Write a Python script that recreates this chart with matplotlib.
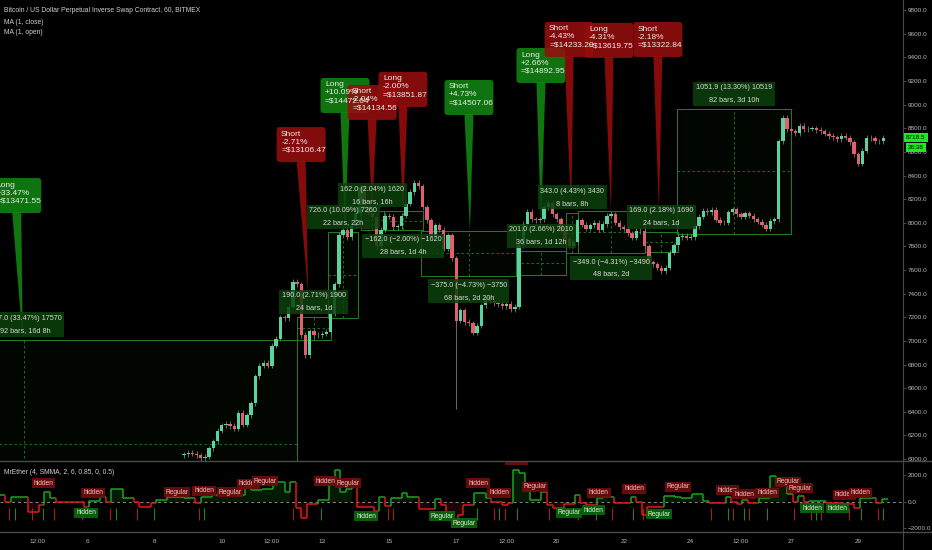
import matplotlib
matplotlib.use('Agg')
import matplotlib.pyplot as plt
import numpy as np
from matplotlib.patches import Rectangle, Polygon, FancyBboxPatch
from matplotlib.collections import LineCollection
from matplotlib.lines import Line2D
from matplotlib.transforms import IdentityTransform

plt.rcParams['font.family'] = ['Liberation Sans', 'DejaVu Sans']

# ---------------- data (days of May 2019) ----------------
bar_start = 8.875          # first 3h candle
bar_step = 0.125
first_open = 6030
closes = [6040, 6050, 6045, 6030, 6005, 6020, 6090, 6150, 6240, 6285,
          6300, 6280, 6255, 6390, 6290, 6370, 6470, 6700, 6790, 6815,
          6790, 6960, 7020, 7200, 7190, 7290, 7500, 7480, 7050, 6880,
          7080, 7050, 7050, 7060, 7075, 7230, 7480, 7900, 7940, 7880,
          7975, 8080, 8300, 8130, 8085, 8050, 7800, 7940, 8060, 8050,
          7960, 7970, 8060, 8160, 8260, 8340, 8310, 8130, 8020, 7890,
          7980, 7940, 7780, 7895, 7700, 7170, 7260, 7160, 7150, 7070,
          7130, 7300, 7370, 7340, 7320, 7310, 7295, 7315, 7270, 7290,
          7810, 7990, 8095, 8030, 8020, 8030, 8130, 8170, 8070, 8030,
          7930, 7860, 7805, 7840, 8020, 7985, 7950, 7980, 8000, 7940,
          7990, 8060, 8070, 8000, 7960, 7950, 7910, 7875, 7930, 7930,
          7800, 7665, 7650, 7620, 7590, 7620, 7745, 7810, 7880, 7890,
          7875, 7880, 7970, 8050, 8100, 8090, 8110, 8025, 8000, 8000,
          8090, 8115, 8070, 8050, 8080, 8060, 8030, 8010, 7985, 7950,
          8015, 8030, 8690, 8890, 8790, 8775, 8760, 8820, 8790, 8795,
          8800, 8785, 8775, 8755, 8735, 8725, 8710, 8735, 8720, 8680,
          8580, 8500, 8610, 8720, 8715, 8690, 8690, 8718.5]
spike_day = [17.0]
spike_low = [6420]
last_price = 8718.5
countdown = '26:38'

tick_days = [4.5, 6, 8, 10, 11.5, 13, 15, 17, 18.5, 20, 22, 24, 25.5, 27, 29]
tick_text = ['12:00', '6', '8', '10', '12:00', '13', '15', '17', '12:00',
             '20', '22', '24', '12:00', '27', '29']
price_ticks = list(range(6000, 9801, 200))

# measure (date & price range) boxes
m_start = [-4.083, 12.25, 13.167, 14.167, 14.833, 15.958, 18.792, 20.292, 20.625, 22.625, 23.583]
m_end = [12.25, 13.25, 14.083, 14.833, 16.0, 18.792, 20.292, 20.625, 22.625, 23.625, 27.0]
m_from = [5250, 7011, 7195, 7941, 8100, 7928, 7556, 7743, 8097, 7752, 7909]
m_to = [7007, 7201, 7921, 8103, 7938, 7553, 7757, 8086, 7748, 7921, 8961]
m = '\u2212'
m_line1 = ['1757.0 (33.47%) 17570', '190.0 (2.71%) 1900', '726.0 (10.09%) 7260',
           '162.0 (2.04%) 1620', m + '162.0 (' + m + '2.00%) ' + m + '1620',
           m + '375.0 (' + m + '4.73%) ' + m + '3750', '201.0 (2.66%) 2010',
           '343.0 (4.43%) 3430', m + '349.0 (' + m + '4.31%) ' + m + '3490',
           '169.0 (2.18%) 1690', '1051.9 (13.30%) 10519']
m_line2 = ['392 bars, 16d 8h', '24 bars, 1d', '22 bars, 22h', '16 bars, 16h',
           '28 bars, 1d 4h', '68 bars, 2d 20h', '36 bars, 1d 12h', '8 bars, 8h',
           '48 bars, 2d', '24 bars, 1d', '82 bars, 3d 10h']

# trade balloons
b_text = ['Long\n+33.47%\n=$13471.55', 'Short\n-2.71%\n=$13106.47',
          'Long\n+10.09%\n=$14472.64', 'Short\n-2.04%\n=$14134.56',
          'Long\n-2.00%\n=$13851.87', 'Short\n+4.73%\n=$14507.06',
          'Long\n+2.66%\n=$14892.95', 'Short\n-4.43%\n=$14233.20',
          'Long\n-4.31%\n=$13619.75', 'Short\n-2.18%\n=$13322.84']
b_win = [True, False, True, False, False, True, True, False, False, False]
b_day = [4.06, 12.58, 13.68, 14.49, 15.41, 17.41, 19.53, 20.43, 21.62, 23.05]
b_price = [7007, 7405, 7922, 8100, 8092, 7922, 7981, 8083, 8092, 8108]

# MrEther indicator, 4h steps
ind_start = 3.375
ind_step = 1 / 6
ind_vals = [500, 0, 330, 330, 330, -750, -750, -250, 700, 250,
            -50, -50, -50, -50, -50, -380, 75, 75, 380, 0,
            960, 960, 250, 250, 0, -380, -380, -75, 125, 125,
            350, 350, 350, 250, 250, -125, 380, 380, 500, 800,
            800, 800, 500, 500, 1130, 880, 880, 930, 930, 1510,
            1510, 750, 1460, -500, -1260, -200, -200, 125, 125, 1760,
            2400, 750, 960, 1640, -380, -380, -380, -700, 330, -300,
            300, 300, 680, 380, 380, -550, -550, -550, 175, -250,
            -1000, -1890, -1000, -250, -250, 630, 630, 250, 0, 0,
            -250, -125, 2400, 2140, 880, 125, 125, 750, -250, -450,
            -450, -200, -200, 500, -125, -250, -250, 250, 350, 350,
            -75, -75, -75, 380, 0, -1000, -380, -380, -380, 450,
            450, 380, 250, 250, 550, 550, 50, -125, -125, -125,
            380, 0, -200, 125, -125, -125, 250, 250, 1960, 1260,
            1260, 550, 0, 450, 0, 50, 50, 50, -125, -125,
            -125, -200, -200, -450, 250, 250, 250, -125, 200]
div_day = [3.66, 3.83, 4.35, 4.67, 4.99, 5.82, 6.67, 6.85, 7.46, 7.99, 9.32, 9.47,
           12.14, 12.96, 14.95, 15.10, 17.62, 18.14, 18.29, 18.47, 18.81, 19.78,
           20.63, 21.17, 21.64, 22.29, 22.57, 24.61, 25.10, 25.25, 25.60, 25.75,
           26.27, 27.09, 27.59, 27.74, 27.89, 28.73, 29.08, 29.58, 29.73]
div_bull = [0, 1, 0, 1, 0, 0, 0, 1, 0, 1, 0, 1,
            0, 1, 0, 0, 1, 0, 1, 0, 1, 0,
            0, 1, 0, 1, 0, 0, 1, 0, 1, 0,
            1, 0, 0, 1, 0, 0, 1, 0, 1]
lab_text = ['hidden', 'hidden', 'Regular', 'hidden', 'Regular', 'hidden', 'Regular',
            'hidden', 'Regular', 'hidden', 'hidden', 'hidden', 'Regular', 'hidden',
            'hidden', 'Regular', 'hidden', 'hidden', 'hidden', 'Regular', 'Regular',
            'hidden', 'hidden',
            'hidden', 'hidden', 'Regular', 'Regular', 'Regular', 'hidden', 'Regular',
            'hidden', 'hidden']
lab_day = [4.67, 6.16, 8.67, 9.47, 10.25, 10.79, 11.29, 13.11, 13.77, 17.65, 18.28,
           18.79, 19.35, 21.26, 22.31, 23.62, 25.11, 25.59, 26.28, 26.90, 27.26,
           28.58, 29.08,
           5.95, 14.31, 16.58, 17.23, 20.37, 21.11, 23.05, 27.62, 28.37]
lab_val = [1410, 660, 730, 810, 730, 1340, 1560, 1560, 1410, 1410, 660,
           3150, 1110, 660, 960, 1110, 880, 580, 660, 1490, 1030,
           510, 660,
           -850, -1080, -1080, -1610, -850, -630, -930, -480, -480]
lab_bull = [False] * 23 + [True] * 9

# ---------------- figure ----------------
W, H = 932, 550
BG = '#000000'
TXT = '#b8b8b8'
GRN, RED = '#5ad39e', '#e3606a'
BOX = '#237f23'

fig = plt.figure(figsize=(W / 100, H / 100), dpi=100, facecolor=BG)

def px_rect(x0, y0, x1, y1):
    return [x0 / W, 1 - y1 / H, (x1 - x0) / W, (y1 - y0) / H]

ax = fig.add_axes(px_rect(0, 0, 903, 461), facecolor=BG)
ax2 = fig.add_axes(px_rect(0, 461, 903, 532), facecolor=BG, sharex=ax)
ax.set_xlim(3.382, 30.337)
ax.set_ylim(5983, 9886)
ax2.set_ylim(-2288, 3073)

for a in (ax, ax2):
    for s in a.spines.values():
        s.set_visible(False)
    a.yaxis.tick_right()
    a.tick_params(axis='y', colors='#555555', labelcolor=TXT, labelsize=4.6,
                  length=2.2, width=0.6, pad=1)

ax.set_yticks(price_ticks)
ax.set_yticklabels([f'{v:.1f}' for v in price_ticks])
ax.tick_params(axis='x', bottom=False, labelbottom=False)
ax2.set_yticks([2000, 0, -2000])
ax2.set_yticklabels(['2000.0', '0.0', '\u22122000.0'])
ax2.set_xticks(tick_days)
ax2.set_xticklabels(tick_text)
ax2.tick_params(axis='x', length=0, pad=5, labelsize=4.6, labelcolor=TXT)

# measure boxes (behind candles)
for t0, t1, p0, p1 in zip(m_start, m_end, m_from, m_to):
    lo, hi = min(p0, p1), max(p0, p1)
    ax.add_patch(Rectangle((t0, lo), t1 - t0, hi - lo, fc=(0.1, 0.5, 0.1, 0.05),
                           ec=BOX, lw=0.7, zorder=2))
    tm, pm = (t0 + t1) / 2, (p0 + p1) / 2
    ax.plot([t0, t1], [pm, pm], color=BOX, lw=0.6, ls=(0, (3, 3)), zorder=2)
    ax.plot([tm, tm], [lo, hi], color=BOX, lw=0.6, ls=(0, (3, 3)), zorder=2)

# candles
n = len(closes)
bx = bar_start + bar_step * np.arange(n)
opens = np.array([first_open] + closes[:-1], dtype=float)
cl = np.array(closes, dtype=float)
cols = [GRN if c >= o else RED for o, c in zip(opens, cl)]
wick = 22
ax.vlines(bx, np.minimum(opens, cl) - wick, np.maximum(opens, cl) + wick,
          color='#7a7a7a', lw=0.6, zorder=3)
ax.vlines(spike_day, spike_low, [7300], color='#7a7a7a', lw=0.6, zorder=3)
ax.bar(bx, cl - opens, bottom=opens, width=bar_step * 0.8, color=cols,
       linewidth=0, zorder=4)

# trade balloons (pixel layout offsets from their tip)
b_dx = [-6, -7, 0, 0, 0, -1, 0, -2, -2, -1]
b_rise = [127, 131, 119, 91, 105, 117, 142, 156, 154, 153]
bw, bh = 49, 35
fig.canvas.draw()
for txt, win, d, p, dx, rise in zip(b_text, b_win, b_day, b_price, b_dx, b_rise):
    tx, ty = ax.transData.transform((d, p))
    fc = '#128512' if win else '#950d0d'
    cx = tx + dx
    y0 = ty + rise
    ax.add_patch(Polygon([(cx - 4.5, y0 + 1), (cx + 4.5, y0 + 1), (tx, ty)],
                         closed=True, fc=fc, ec='none', alpha=0.9,
                         transform=IdentityTransform(), zorder=5))
    ax.add_patch(FancyBboxPatch((cx - bw / 2, y0), bw, bh,
                                boxstyle='round,pad=0,rounding_size=3',
                                fc=fc, ec='none', alpha=0.88,
                                transform=IdentityTransform(), zorder=5))
    ax.text(cx - bw / 2 + 4.5, y0 + bh - 3.5, txt, transform=IdentityTransform(),
            ha='left', va='top', fontsize=6, color='#ececec', linespacing=1.2,
            zorder=6, clip_on=True)

# measure labels
for t0, t1, p0, p1, l1, l2 in zip(m_start, m_end, m_from, m_to, m_line1, m_line2):
    up = p1 > p0
    tm = (t0 + t1) / 2
    ax.annotate(l1 + '\n' + l2, xy=(tm, max(p0, p1) if up else min(p0, p1)),
                xytext=(0, 6 if up else -6), textcoords='offset pixels',
                ha='center', va='bottom' if up else 'top', fontsize=5.25,
                color='#d8d8d8', linespacing=2.0, zorder=7,
                bbox=dict(boxstyle='square,pad=0.35', fc='#0c420c', ec='none', alpha=0.85))

# last price / countdown tags
for lab, off in ((f'{last_price:.1f}', 0), (countdown, -10)):
    ax.annotate(lab, xy=(1, last_price), xycoords=('axes fraction', 'data'),
                xytext=(13, off), textcoords='offset pixels', ha='center', va='center',
                fontsize=4.6, color='#000000', zorder=10, annotation_clip=False,
                bbox=dict(boxstyle='square,pad=0.3', fc='#22e622', ec='none'))

# indicator pane
edges = ind_start + ind_step * np.arange(len(ind_vals) + 1)
iv = np.array(ind_vals, dtype=float)
icol = lambda v: '#20a020' if v > 0 else '#e01818'
segs, scol = [], []
for j, v in enumerate(iv):
    segs.append([(edges[j], v), (edges[j + 1], v)])
    scol.append(icol(v))
    if j + 1 < len(iv):
        segs.append([(edges[j + 1], v), (edges[j + 1], iv[j + 1])])
        scol.append(icol(iv[j + 1]))
ext = np.append(iv, iv[-1])
ax2.fill_between(edges, ext, 0, where=ext > 0, step='post', color='#1a7a1a',
                 alpha=0.22, lw=0, zorder=1)
ax2.fill_between(edges, ext, 0, where=ext < 0, step='post', color='#7a1010',
                 alpha=0.25, lw=0, zorder=1)
ax2.axhline(0, color='#8a8a8a', lw=0.7, ls=(0, (3, 3)), zorder=2)
ax2.vlines(div_day, -1400, -450, colors=['#1d8f1d' if b else '#b81a1a' for b in div_bull],
           lw=0.7, zorder=2)
ax2.add_collection(LineCollection(segs, colors=scol, lw=1.1, zorder=3))

for txt, d, v, bull in zip(lab_text, lab_day, lab_val, lab_bull):
    ax2.text(d, v, txt, ha='center', va='center', fontsize=4.8,
             color='#d8f0d8' if bull else '#f2c0c0', zorder=6, clip_on=True,
             bbox=dict(boxstyle='square,pad=0.25', fc='#0d650d' if bull else '#6e0c0c',
                       ec='none', alpha=0.92))

# pane separators and price scale border
for yy in (461, 532):
    fig.add_artist(Line2D([0, 1], [1 - yy / H] * 2, color='#4a4a4a', lw=1.0))
fig.add_artist(Line2D([903 / W] * 2, [0, 1], color='#4a4a4a', lw=0.8))

# legends
fig.text(4 / W, 1 - 11 / H, 'Bitcoin / US Dollar Perpetual Inverse Swap Contract, 60, BITMEX',
         fontsize=4.9, color='#d0d0d0', va='center', ha='left')
fig.text(4 / W, 1 - 22 / H, 'MA (1, close)', fontsize=4.9, color='#d0d0d0', va='center')
fig.text(4 / W, 1 - 33 / H, 'MA (1, open)', fontsize=4.9, color='#d0d0d0', va='center')
fig.text(4 / W, 1 - 472 / H, 'MrEther (4, SMMA, 2, 6, 0.85, 0, 0.5)', fontsize=4.9,
         color='#d0d0d0', va='center')

fig.savefig('out.png', dpi=100, facecolor=BG)
